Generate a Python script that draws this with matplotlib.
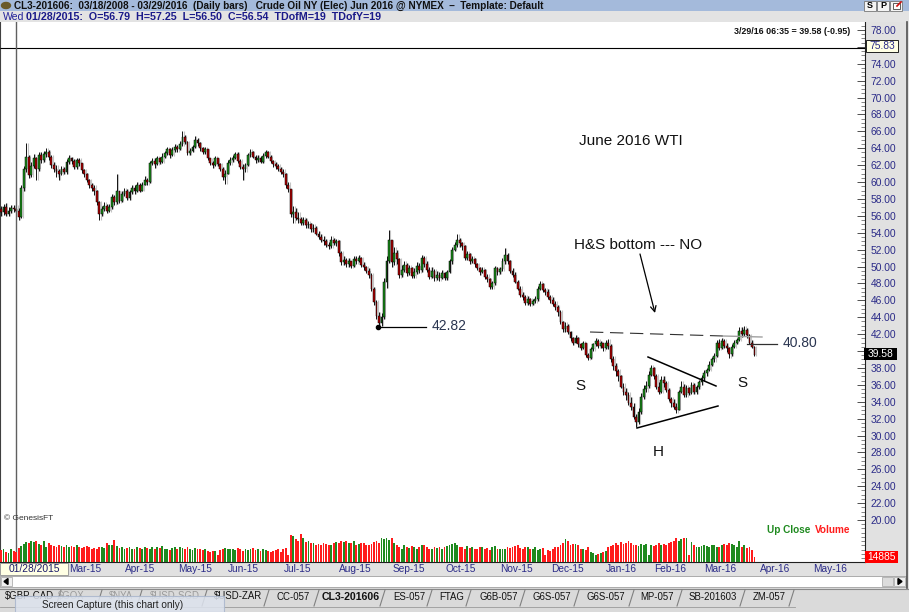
import numpy as np
import pandas as pd
import matplotlib
matplotlib.use("Agg")
import matplotlib.pyplot as plt
from matplotlib.patches import Rectangle, Polygon
from matplotlib.lines import Line2D
from matplotlib.ticker import MultipleLocator, FixedLocator

plt.rcParams['font.family'] = ['Liberation Sans', 'DejaVu Sans']

# ---------------- data (closes / highs / lows per month, volume in thousands) -------------
c_2015_01 = [56.4, 57.0, 56.2, 56.6, 56.9, 56.8, 56.54, 55.9, 59.3]
h_2015_01 = [57.2, 57.4, 57.5, 57.0, 57.3, 57.3, 57.25, 56.9, 59.6]
l_2015_01 = [56.0, 56.1, 56.0, 56.0, 56.3, 56.5, 56.50, 55.5, 55.8]

c_2015_02 = [61.5, 63.0, 60.8, 61.9, 62.8, 61.5, 63.2, 62.6, 63.3, 63.5, 63.0, 62.0, 61.6, 61.3, 61.0, 61.5, 61.2, 62.4, 62.8]
h_2015_02 = [61.9, 64.6, 63.2, 62.4, 63.3, 63.0, 63.6, 63.5, 63.7, 64.0, 63.8, 63.2, 62.4, 62.0, 61.6, 61.9, 61.8, 62.7, 63.2]
l_2015_02 = [59.0, 61.2, 60.5, 60.6, 61.7, 60.2, 61.3, 62.2, 62.4, 63.0, 62.6, 61.7, 61.2, 60.6, 60.2, 60.8, 60.9, 61.0, 62.1]

c_2015_03 = [62.5, 61.8, 62.6, 62.2, 61.4, 61.0, 60.3, 59.6, 59.3, 58.9, 57.6, 56.2, 56.8, 57.2, 56.6, 57.0, 58.2, 57.6, 58.9, 57.8, 58.6, 59.0]
h_2015_03 = [63.0, 62.7, 62.9, 62.8, 62.3, 61.6, 61.1, 60.4, 59.9, 59.6, 59.1, 57.8, 57.2, 57.6, 57.4, 57.4, 58.6, 58.5, 61.0, 59.0, 59.0, 59.3]
l_2015_03 = [62.1, 61.5, 61.6, 61.9, 61.1, 60.6, 60.0, 59.3, 59.0, 58.5, 57.3, 55.5, 56.0, 56.6, 56.3, 56.4, 56.8, 57.3, 57.4, 57.5, 57.6, 58.4]

c_2015_04 = [58.1, 58.8, 59.3, 58.9, 59.6, 59.0, 59.7, 60.3, 60.0, 62.2, 62.5, 62.1, 62.8, 62.4, 63.0, 63.4, 63.9, 63.2, 63.8, 64.2, 63.9]
h_2015_04 = [59.2, 59.1, 59.7, 59.6, 60.0, 59.9, 60.0, 60.7, 60.5, 62.5, 62.9, 62.8, 63.1, 63.0, 63.4, 63.7, 64.2, 64.0, 64.1, 64.5, 64.4]
l_2015_04 = [57.9, 57.9, 58.6, 58.6, 58.8, 58.8, 58.9, 59.6, 59.7, 59.9, 62.0, 61.7, 62.0, 62.1, 62.3, 62.8, 63.2, 62.9, 63.1, 63.6, 63.6]

c_2015_05 = [64.5, 65.3, 64.8, 63.4, 63.7, 64.1, 65.0, 64.6, 64.0, 63.5, 63.9, 62.8, 62.2, 62.0, 62.8, 62.1, 61.6, 60.6, 61.0, 62.3]
h_2015_05 = [64.9, 66.0, 65.6, 64.9, 64.0, 64.4, 65.4, 65.2, 64.7, 64.2, 64.1, 63.9, 62.9, 62.5, 63.1, 62.9, 62.2, 61.8, 61.4, 62.6]
l_2015_05 = [63.8, 64.3, 64.5, 63.2, 63.2, 63.5, 64.0, 64.3, 63.7, 63.3, 63.3, 62.6, 62.0, 61.7, 61.9, 61.9, 61.3, 60.3, 59.8, 60.9]

c_2015_06 = [62.6, 62.9, 63.3, 62.5, 61.8, 61.5, 62.0, 63.2, 63.6, 63.0, 62.6, 62.9, 62.4, 63.1, 63.5, 63.0, 62.5, 62.1, 61.9, 61.6, 61.2, 61.0]
h_2015_06 = [63.0, 63.2, 63.6, 63.5, 62.7, 62.1, 62.3, 63.4, 63.9, 63.7, 63.2, 63.2, 63.1, 63.4, 63.8, 63.7, 63.2, 62.6, 62.4, 62.1, 61.8, 61.6]
l_2015_06 = [62.0, 62.4, 62.7, 62.2, 61.6, 60.2, 61.2, 61.9, 63.0, 62.8, 62.3, 62.4, 62.2, 62.3, 62.9, 62.8, 62.3, 61.8, 61.6, 61.3, 60.9, 60.6]

c_2015_07 = [59.6, 59.2, 56.2, 56.5, 55.8, 55.6, 55.2, 55.5, 54.9, 55.0, 54.4, 54.6, 53.9, 53.5, 53.2, 53.0, 52.6, 52.4, 53.2, 52.8, 53.0, 51.6]
h_2015_07 = [61.1, 60.0, 58.0, 57.2, 56.9, 56.4, 55.9, 55.9, 55.7, 55.4, 55.2, 55.0, 54.8, 54.2, 53.8, 53.6, 53.3, 52.9, 53.6, 53.4, 53.3, 53.1]
l_2015_07 = [59.3, 58.8, 55.9, 55.1, 55.5, 55.2, 54.9, 54.9, 54.6, 54.6, 54.1, 54.1, 53.7, 53.3, 52.9, 52.6, 52.3, 52.1, 52.2, 52.5, 52.4, 51.3]

c_2015_08 = [50.5, 50.8, 50.3, 50.6, 50.1, 50.9, 50.7, 51.0, 50.2, 49.9, 49.5, 49.0, 47.4, 45.8, 44.2, 43.3, 44.0, 48.2, 50.6, 53.2, 50.5]
h_2015_08 = [51.8, 51.2, 51.0, 51.0, 50.7, 51.2, 51.3, 51.4, 51.1, 50.5, 50.1, 49.8, 49.2, 47.6, 46.0, 44.6, 44.5, 48.6, 51.2, 54.3, 53.0]
l_2015_08 = [50.2, 50.2, 50.0, 50.0, 49.8, 49.9, 50.3, 50.5, 50.0, 49.6, 49.2, 48.7, 47.1, 45.5, 43.8, 42.82, 43.0, 43.8, 47.5, 50.4, 50.0]

c_2015_09 = [51.6, 50.9, 49.0, 49.6, 50.2, 49.2, 49.8, 48.9, 49.4, 50.1, 49.6, 51.0, 50.3, 49.6, 48.8, 49.5, 48.6, 49.0, 48.6, 49.2, 48.7]
h_2015_09 = [52.3, 52.0, 51.0, 50.2, 50.6, 50.4, 50.2, 50.0, 49.8, 50.5, 50.4, 51.4, 51.2, 50.6, 49.9, 49.9, 49.7, 49.5, 49.4, 49.6, 49.4]
l_2015_09 = [50.2, 50.3, 48.7, 48.8, 49.4, 48.9, 49.0, 48.6, 48.6, 49.1, 49.2, 49.4, 50.0, 49.3, 48.5, 48.6, 48.3, 48.4, 48.3, 48.5, 48.4]

c_2015_10 = [49.3, 50.6, 52.0, 52.5, 53.2, 52.8, 52.4, 51.0, 51.5, 50.6, 50.9, 50.3, 49.8, 49.4, 49.6, 48.8, 48.5, 47.6, 48.0, 49.8, 49.3, 49.7]
h_2015_10 = [49.6, 50.9, 52.3, 52.9, 53.9, 53.4, 52.9, 52.5, 51.8, 51.6, 51.2, 51.0, 50.4, 50.0, 49.9, 49.7, 49.1, 48.6, 48.3, 50.1, 50.0, 50.0]
l_2015_10 = [48.4, 49.2, 50.3, 51.8, 52.3, 52.3, 51.9, 50.8, 50.8, 50.3, 50.4, 50.0, 49.6, 49.0, 49.2, 48.5, 48.2, 47.3, 47.4, 47.8, 49.0, 49.1]

c_2015_11 = [50.6, 51.4, 50.6, 49.5, 49.0, 48.2, 47.4, 46.6, 46.4, 45.7, 46.2, 45.6, 45.9, 46.1, 47.4, 47.9, 47.2, 47.0, 46.4, 46.0]
h_2015_11 = [51.0, 52.2, 51.6, 50.8, 49.8, 49.3, 48.4, 47.7, 47.0, 46.6, 46.5, 46.3, 46.2, 46.5, 47.7, 48.3, 48.0, 47.5, 47.3, 46.6]
l_2015_11 = [49.5, 50.3, 50.3, 49.2, 48.8, 48.0, 47.2, 46.4, 46.0, 45.5, 45.4, 45.3, 45.4, 45.7, 45.9, 47.2, 47.0, 46.6, 46.2, 45.7]

c_2015_12 = [45.6, 45.2, 44.6, 43.4, 42.6, 43.0, 42.2, 41.5, 41.0, 41.6, 40.8, 40.4, 40.9, 39.5, 39.2, 40.2, 40.8, 41.2, 40.6, 40.9, 40.3, 41.0]
h_2015_12 = [46.4, 45.9, 45.4, 44.8, 43.6, 43.4, 43.2, 42.4, 41.7, 41.9, 41.7, 40.9, 41.2, 41.0, 39.8, 40.5, 41.0, 41.6, 41.4, 41.2, 41.0, 41.3]
l_2015_12 = [45.3, 44.9, 44.2, 43.2, 42.3, 42.2, 42.0, 41.2, 40.7, 40.9, 40.5, 40.1, 40.2, 39.3, 38.9, 39.1, 40.0, 40.6, 40.3, 40.3, 40.0, 40.2]

c_2016_01 = [40.6, 39.0, 38.2, 37.6, 37.0, 35.8, 35.2, 34.8, 33.9, 33.4, 32.2, 31.6, 32.8, 34.6, 35.5, 35.9, 37.2, 38.0, 37.1]
h_2016_01 = [41.4, 40.8, 39.4, 38.6, 37.9, 37.2, 36.2, 35.6, 35.2, 34.5, 33.8, 32.6, 33.2, 35.0, 36.0, 36.5, 37.6, 38.3, 38.1]
l_2016_01 = [40.2, 38.7, 37.8, 37.0, 36.5, 35.6, 34.8, 34.2, 33.6, 33.0, 32.0, 31.0, 31.4, 32.5, 34.3, 35.1, 35.6, 37.0, 36.7]

c_2016_02 = [35.8, 35.2, 36.6, 36.2, 35.4, 34.3, 33.8, 33.4, 33.0, 35.2, 35.8, 34.8, 35.6, 35.0, 36.0, 35.1, 35.7, 36.3, 36.8, 37.4]
h_2016_02 = [37.3, 36.3, 37.0, 37.1, 36.4, 35.6, 34.6, 34.3, 33.8, 35.4, 36.4, 36.1, 36.0, 35.8, 36.3, 36.2, 36.0, 36.6, 37.2, 37.7]
l_2016_02 = [35.5, 34.9, 35.0, 35.8, 35.1, 34.1, 33.4, 33.1, 32.7, 33.0, 35.0, 34.5, 34.6, 34.8, 34.9, 34.9, 34.9, 35.5, 36.0, 36.5]

c_2016_03 = [37.8, 38.4, 39.0, 39.4, 41.0, 40.4, 41.2, 40.6, 40.3, 39.6, 40.5, 41.0, 41.3, 42.4, 42.0, 42.5, 41.9, 41.0, 40.53, 39.58]
h_2016_03 = [38.0, 38.8, 39.3, 39.8, 41.3, 41.4, 41.5, 41.4, 40.9, 40.5, 40.8, 41.3, 41.6, 42.8, 42.9, 43.0, 42.7, 42.0, 41.3, 40.6]
l_2016_03 = [37.0, 37.6, 38.2, 38.7, 39.3, 40.1, 40.2, 40.3, 39.9, 39.2, 39.4, 40.4, 40.8, 41.2, 41.7, 41.8, 41.6, 40.8, 40.3, 39.4]

v_2015_01 = [35, 40, 30, 28, 38, 32, 30, 42, 48]
v_2015_02 = [55, 60, 58, 62, 60, 64, 55, 50, 62, 45, 58, 52, 48, 45, 50, 48, 44, 52, 46]
v_2015_03 = [48, 45, 50, 44, 42, 46, 48, 44, 40, 42, 38, 44, 46, 42, 58, 52, 50, 66, 48, 42, 45, 40]
v_2015_04 = [42, 44, 40, 38, 46, 42, 40, 45, 43, 38, 44, 40, 46, 42, 48, 38, 40, 36, 42, 44, 40]
v_2015_05 = [46, 42, 38, 44, 40, 36, 42, 38, 40, 35, 38, 34, 30, 32, 34, 20, 36, 38, 42, 40]
v_2015_06 = [38, 40, 36, 42, 38, 34, 40, 36, 38, 42, 36, 40, 34, 38, 36, 32, 30, 34, 36, 38, 30, 40]
v_2015_07 = [42, 20, 80, 78, 68, 62, 84, 70, 60, 64, 58, 56, 52, 54, 50, 58, 55, 52, 50, 56, 60, 58]
v_2015_08 = [62, 60, 64, 58, 56, 62, 50, 54, 56, 58, 52, 50, 55, 60, 62, 56, 70, 68, 72, 66, 70]
v_2015_09 = [58, 52, 46, 40, 50, 44, 42, 48, 46, 40, 44, 50, 52, 46, 40, 38, 44, 42, 46, 40, 44]
v_2015_10 = [48, 52, 54, 56, 50, 46, 44, 40, 48, 42, 44, 40, 38, 46, 44, 40, 42, 36, 44, 48, 40, 38]
v_2015_11 = [40, 38, 44, 42, 46, 48, 52, 42, 40, 46, 44, 38, 40, 44, 36, 38, 42, 20, 36, 34]
v_2015_12 = [40, 46, 44, 50, 58, 68, 62, 52, 55, 54, 50, 40, 38, 36, 44, 30, 26, 22, 24, 28, 30, 34]
v_2016_01 = [44, 48, 52, 56, 50, 60, 54, 58, 62, 56, 50, 52, 48, 54, 50, 54, 20, 52, 48]
v_2016_02 = [50, 56, 52, 54, 50, 58, 60, 64, 70, 62, 68, 72, 70, 20, 60, 52, 46, 44, 48, 50]
v_2016_03 = [48, 46, 52, 50, 44, 46, 50, 54, 52, 56, 54, 50, 46, 62, 44, 52, 42, 44, 36, 14.885]

first_open = 56.8
month_labels = ['Mar-15', 'Apr-15', 'May-15', 'Jun-15', 'Jul-15', 'Aug-15', 'Sep-15', 'Oct-15',
                'Nov-15', 'Dec-15', 'Jan-16', 'Feb-16', 'Mar-16', 'Apr-16', 'May-16']
tab_names = ['$GBP-CAD', '$GOX', '$NYA', '$USD-SGD', '$USD-ZAR', 'CC-057', 'CL3-201606', 'ES-057',
             'FTAG', 'G6B-057', 'G6S-057', 'G6S-057', 'MP-057', 'SB-201603', 'ZM-057']

closes = np.array(sum([c_2015_01, c_2015_02, c_2015_03, c_2015_04, c_2015_05, c_2015_06, c_2015_07, c_2015_08,
                       c_2015_09, c_2015_10, c_2015_11, c_2015_12, c_2016_01, c_2016_02, c_2016_03], []))
highs = np.array(sum([h_2015_01, h_2015_02, h_2015_03, h_2015_04, h_2015_05, h_2015_06, h_2015_07, h_2015_08,
                      h_2015_09, h_2015_10, h_2015_11, h_2015_12, h_2016_01, h_2016_02, h_2016_03], []))
lows = np.array(sum([l_2015_01, l_2015_02, l_2015_03, l_2015_04, l_2015_05, l_2015_06, l_2015_07, l_2015_08,
                     l_2015_09, l_2015_10, l_2015_11, l_2015_12, l_2016_01, l_2016_02, l_2016_03], []))
vols = np.array(sum([v_2015_01, v_2015_02, v_2015_03, v_2015_04, v_2015_05, v_2015_06, v_2015_07, v_2015_08,
                     v_2015_09, v_2015_10, v_2015_11, v_2015_12, v_2016_01, v_2016_02, v_2016_03], []), dtype=float)
n = min(len(closes), len(highs), len(lows), len(vols))
closes, highs, lows, vols = closes[:n], highs[:n], lows[:n], vols[:n]
opens = np.r_[first_open, closes[:-1]]
highs = np.maximum(highs, np.maximum(opens, closes))
lows = np.minimum(lows, np.minimum(opens, closes))
idx = np.arange(n)

holidays = pd.to_datetime(['2015-02-16', '2015-04-03', '2015-05-25', '2015-07-03', '2015-09-07', '2015-11-26',
                           '2015-12-25', '2016-01-01', '2016-01-18', '2016-02-15', '2016-03-25', '2016-05-30'])
days = pd.bdate_range('2015-01-20', '2016-06-30')
days = days[~days.isin(holidays)]

# ---------------- figure & pixel helpers ----------------
W, H = 909, 612
fig = plt.figure(figsize=(W / 100, H / 100), dpi=100)
fig.patch.set_facecolor('#e1e1e1')

def fx(x): return x / W
def fy(y): return 1 - y / H

def rect(x0, y0, x1, y1, fc, ec='none', lw=0.0, z=5, alpha=1.0):
    r = Rectangle((fx(x0), fy(y1)), (x1 - x0) / W, (y1 - y0) / H, transform=fig.transFigure,
                  facecolor=fc, edgecolor=ec, linewidth=lw, zorder=z, alpha=alpha)
    fig.add_artist(r)

def line(xs, ys, color='black', lw=1.0, z=6, **kw):
    fig.add_artist(Line2D([fx(v) for v in xs], [fy(v) for v in ys], transform=fig.transFigure,
                          color=color, lw=lw, zorder=z, **kw))

def txt(x, y, s, z=7, **kw):
    fig.text(fx(x), fy(y), s, zorder=z, **kw)

PX_BAR = 2.52
PX_PRICE = 8.448
def dx(px): return (px - 1) / PX_BAR
def dy(py): return 78 - (py - 30) / PX_PRICE

AX_L, AX_R, AX_T, AX_B = 0, 865, 22, 562
ax = fig.add_axes([fx(AX_L), fy(AX_B), (AX_R - AX_L) / W, (AX_B - AX_T) / H])
ax.set_facecolor('white')
ax.set_xlim(dx(AX_L), dx(AX_R))
ax.set_ylim(dy(AX_B), dy(AX_T))

# candles
up = closes >= opens
ax.vlines(idx + 0.55, lows, highs, color='#c4c4c4', lw=0.8, zorder=1)
ax.vlines(idx, lows, highs, color='black', lw=0.65, zorder=2)
ax.bar(idx, np.maximum(np.abs(closes - opens), 0.08), bottom=np.minimum(opens, closes), width=0.74,
       color=np.where(up, '#1a8f1a', '#b00000'), edgecolor='black', linewidth=0.35, zorder=3)

# volume
axv = ax.twinx()
axv.set_ylim(0, (AX_B - AX_T) * 2.977)
vup = closes >= np.r_[opens[0], closes[:-1]]
axv.bar(idx, vols, width=0.72, color=np.where(vup, '#1f8a1f', '#ff1c1c'), linewidth=0)
axv.axis('off')

# right price axis
ax.yaxis.tick_right()
ax.set_xticks([])
major_vals = np.arange(20, 79, 2)
ax.yaxis.set_major_locator(FixedLocator(major_vals))
ax.yaxis.set_minor_locator(MultipleLocator(0.5))
ax.set_yticklabels(['' if v in (40, 76) else f'{v:.2f}' for v in major_vals])
ax.tick_params(axis='y', which='major', direction='in', length=6, width=0.6, color='#333333',
               labelsize=7.4, pad=4, labelcolor='#2b2b88')
ax.tick_params(axis='y', which='minor', direction='in', length=3, width=0.5, color='#555555')
ax.tick_params(axis='y', which='both', left=False, labelleft=False)
ax.spines['top'].set_visible(False)
ax.spines['left'].set_color('#404040')
ax.spines['right'].set_color('#202020')
ax.spines['bottom'].set_color('#202020')

# horizontal line at 75.83 and cursor line
ax.hlines(75.83, dx(0), dx(865), color='black', lw=0.8, zorder=4)
ax.axvline(6, color='#606060', lw=1.0, zorder=4)

# ---------------- annotations ----------------
ax.text(dx(631), dy(141), 'June 2016 WTI', fontsize=11, ha='center', va='center', color='#111111')
ax.text(dx(638), dy(245), 'H&S bottom --- NO', fontsize=11, ha='center', va='center', color='#111111')
ax.annotate('', xy=(dx(655), dy(313)), xytext=(dx(640), dy(254)),
            arrowprops=dict(arrowstyle='->', lw=0.9, color='black', shrinkA=0, shrinkB=0))
ax.plot([dx(377.5), dx(426)], [dy(326.5), dy(326.5)], color='black', lw=0.9, zorder=5)
ax.plot([dx(377.5)], [dy(326.5)], 'o', color='black', ms=3, zorder=5)
ax.text(dx(432), dy(326), '42.82', fontsize=10, ha='left', va='center', color='#2a3550')
ax.plot([dx(590), dx(723)], [dy(332), dy(336)], color='#303030', lw=0.8, ls=(0, (12, 6)), zorder=5)
ax.plot([dx(723), dx(762)], [dy(336), dy(337)], color='#a0a0a0', lw=1.0, zorder=5)
ax.plot([dx(747), dx(777)], [dy(344), dy(344)], color='#303030', lw=0.9, zorder=5)
ax.text(dx(783), dy(343), '40.80', fontsize=10, ha='left', va='center', color='#2a3550')
ax.plot([dx(648), dx(716)], [dy(357), dy(386)], color='black', lw=1.1, zorder=5)
ax.plot([dx(637), dx(718)], [dy(428), dy(406)], color='black', lw=1.1, zorder=5)
ax.text(dx(580), dy(386), 'S', fontsize=11, ha='center', va='center', color='#111111')
ax.text(dx(742), dy(383), 'S', fontsize=11, ha='center', va='center', color='#111111')
ax.text(dx(658), dy(452), 'H', fontsize=11, ha='center', va='center', color='#111111')

# ---------------- window chrome ----------------
rect(0, 0, 909, 11, '#a4badb', z=8)
fig.add_artist(plt.Circle((fx(6), fy(5.5)), 4.5 / W, transform=fig.transFigure, color='#6a5a2a', zorder=9))
txt(14, 5.8, 'CL3-201606:  03/18/2008 - 03/29/2016  (Daily bars)   Crude Oil NY (Elec) Jun 2016 @ NYMEX  \u2013  Template: Default',
    fontsize=7.2, va='center', ha='left', color='#101010', weight='bold', z=9)
for (bx, lab) in [(864, 'S'), (877, 'P'), (890, '')]:
    rect(bx, 1, bx + 12, 11, '#f4f4f4', ec='#777777', lw=0.6, z=9)
    if lab:
        txt(bx + 6, 6, lab, fontsize=6.5, ha='center', va='center', weight='bold', color='black', z=10)
rect(893, 3, 900, 9, 'white', ec='#444444', lw=0.6, z=10)
line([897, 901], [6, 2], color='#d01010', lw=1.2, z=11)

rect(0, 11, 909, 22, '#e3e3e3', z=8)
txt(3, 16.5, 'Wed', fontsize=7.6, va='center', color='#22229a', z=9)
txt(26, 16.5, '01/28/2015:  O=56.79  H=57.25  L=56.50  C=56.54  TDofM=19  TDofY=19',
    fontsize=7.7, va='center', color='#1a1a8a', weight='bold', z=9)

txt(850, 31, '3/29/16 06:35 = 39.58 (-0.95)', fontsize=6.4, ha='right', va='center', color='#111111', weight='bold', z=9)

# right axis value boxes
rect(866, 40, 898, 52, '#ffffe4', ec='#202020', lw=0.7, z=9)
txt(882, 46.3, '75.83', fontsize=7.4, ha='center', va='center', color='#2b2b88', z=10)
rect(864, 348, 897, 360, '#000000', z=9)
txt(880.5, 354, '39.58', fontsize=7.4, ha='center', va='center', color='white', z=10)
rect(865, 551, 898, 563, '#ff0000', z=9)
txt(881.5, 557, '14885', fontsize=7.4, ha='center', va='center', color='white', z=10)
line([907, 907], [22, 588], color='#505050', lw=1.2, z=9)

# legend-ish labels
txt(767, 530, 'Up Close', fontsize=7.2, va='center', color='#1f8a1f', weight='bold', z=9)
txt(815, 530, 'Volume', fontsize=7.2, va='center', color='#ff1c1c', weight='bold', z=9)
txt(4, 518, '\u00a9 GenesisFT', fontsize=6, va='center', color='#333333', z=9)

# date axis
for lab in month_labels:
    d = pd.to_datetime('01-' + lab, format='%d-%b-%y')
    pos = int(np.searchsorted(days.values, np.datetime64(d)))
    px = 1 + PX_BAR * pos - 2
    txt(px, 569, lab, fontsize=7.3, ha='left', va='center', color='#2b2b88', z=9)
rect(0, 563, 68, 575, '#ffffe4', ec='#909090', lw=0.6, z=9)
txt(34, 569, '01/28/2015', fontsize=7.4, ha='center', va='center', color='#1a1a6a', z=10)

# scrollbar
rect(0, 576, 906, 587, 'white', ec='#a0a0a0', lw=0.6, z=8)
rect(1, 577, 12, 586, '#f0f0f0', ec='#a0a0a0', lw=0.5, z=9)
fig.add_artist(Polygon([[fx(4), fy(581.5)], [fx(8), fy(578.5)], [fx(8), fy(584.5)]], closed=True,
                       transform=fig.transFigure, color='black', zorder=10))
rect(882, 577, 893, 586, '#dcdcdc', ec='#a0a0a0', lw=0.5, z=9)
rect(894, 577, 905, 586, '#f0f0f0', ec='#a0a0a0', lw=0.5, z=9)
fig.add_artist(Polygon([[fx(902), fy(581.5)], [fx(898), fy(578.5)], [fx(898), fy(584.5)]], closed=True,
                       transform=fig.transFigure, color='black', zorder=10))

# tabs
rect(0, 588, 909, 612, '#dadada', z=8)
line([0, 909], [588.5, 588.5], color='#8a8a8a', lw=0.8, z=9)
tab_cx = [29, 71, 121, 175, 238, 293, 351, 409, 452, 499, 552, 606, 657, 713, 769]
seps = [59, 100, 140, 205, 267, 317, 383, 430, 469, 523, 577, 632, 680, 743, 792]
faded = {'$GOX', '$NYA', '$USD-SGD'}
for name, cx in zip(tab_names, tab_cx):
    if name == 'CL3-201606':
        txt(cx, 597.5, name, fontsize=7.6, ha='center', va='center', color='#111111', weight='bold', z=9)
    else:
        col = '#9a9a9a' if name in faded else '#111111'
        txt(cx, 596.5, name, fontsize=6.9, ha='center', va='center', color=col, z=9)
for sx in seps:
    line([sx - 3, sx + 2], [606, 590], color='#808080', lw=0.8, z=9)
line([0, 795], [606.5, 606.5], color='#9a9a9a', lw=0.6, z=9)
rect(15, 596, 224, 612, '#dde3ee', ec='#a9b6cc', lw=0.8, z=11, alpha=0.85)
txt(42, 605.5, 'Screen Capture (this chart only)', fontsize=7.2, va='center', color='#222222', z=12)

fig.savefig('out.png', dpi=100, facecolor=fig.get_facecolor())
